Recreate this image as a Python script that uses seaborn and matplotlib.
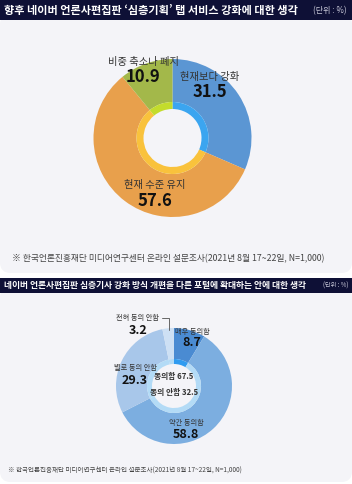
import matplotlib
matplotlib.use("Agg")
import matplotlib.pyplot as plt
from matplotlib.patches import FancyBboxPatch, Rectangle
import seaborn as sns

# Data
top_labels = ["현재보다 강화", "현재 수준 유지", "비중 축소나 폐지"]
top_values = [31.5, 57.6, 10.9]
top_colors = ["#5b96d3", "#e8a04c", "#a3b84a"]
top_inner_colors = ["#3ba5f0", "#f9c23c", "#c3dc2c"]

bottom_labels = ["매우 동의함", "약간 동의함", "별로 동의 안함", "전혀 동의 안함"]
bottom_values = [8.7, 58.8, 29.3, 3.2]
bottom_colors = ["#4a8bd2", "#7caee0", "#a8c7ea", "#cde0f4"]
bottom_inner_colors = ["#2f9bf0", "#b3dbf6", "#b3dbf6", "#b3dbf6"]
agree_total = 67.5
disagree_total = 32.5

title_top = "향후 네이버 언론사편집판 ‘심층기획’ 탭 서비스 강화에 대한 생각"
title_bottom = "네이버 언론사편집판 심층기사 강화 방식 개편을 다른 포털에 확대하는 안에 대한 생각"
unit = "(단위 : %)"
source = "※ 한국언론진흥재단 미디어연구센터 온라인 설문조사(2021년 8월 17~22일, N=1,000)"

sns.set_theme(style="white")
plt.rcParams["font.family"] = ["Noto Sans CJK KR", "DejaVu Sans"]

W, H = 352, 484
fig = plt.figure(figsize=(W / 100, H / 100), dpi=100)
fig.patch.set_facecolor("white")

NAVY = "#0e1036"
PANEL = "#f4f4f8"


def px(x, y):
    return x / W, 1 - y / H


def box(x0, y0, x1, y1, color, rounded=False):
    if rounded:
        p = FancyBboxPatch(px(x0, y1), (x1 - x0) / W, (y1 - y0) / H,
                           boxstyle="round,pad=0,rounding_size=0.03",
                           transform=fig.transFigure, facecolor=color,
                           edgecolor="none", mutation_aspect=W / H, zorder=-2)
    else:
        p = Rectangle(px(x0, y1), (x1 - x0) / W, (y1 - y0) / H,
                      transform=fig.transFigure, facecolor=color,
                      edgecolor="none", zorder=-1)
    fig.patches.append(p)


def txt(x, y, s, size, color="#222222", weight="normal", ha="center", va="center"):
    fig.text(*px(x, y), s, fontsize=size, color=color, fontweight=weight,
             ha=ha, va=va, zorder=5)


def donut(cx, cy, r, values, colors, inner_colors, ring_out, ring_w):
    ax = fig.add_axes([(cx - r) / W, (H - cy - r) / H, 2 * r / W, 2 * r / H])
    ax.pie(values, colors=colors, startangle=90, counterclock=False, radius=1,
           wedgeprops=dict(width=1 - ring_out / r, linewidth=0))
    ax.pie(values, colors=inner_colors, startangle=90, counterclock=False,
           radius=ring_out / r, wedgeprops=dict(width=ring_w / r, linewidth=0))
    ax.set_xlim(-1, 1)
    ax.set_ylim(-1, 1)
    ax.set_aspect("equal")
    ax.axis("off")
    ax.set_zorder(1)
    return ax


# Panel backgrounds
box(0, 14, W, 273, PANEL, rounded=True)
box(0, 0, W, 20, NAVY)
box(0, 287, W, 482, PANEL, rounded=True)
box(0, 278, W, 293, NAVY)

# Headers
txt(4, 10.5, title_top, 8.0, color="white", weight="bold", ha="left")
txt(347, 10.5, unit, 5.8, color="#c8c8d8", ha="right")
txt(4, 285.5, title_bottom, 6.3, color="white", weight="bold", ha="left")
txt(348, 285.5, unit, 4.4, color="#c8c8d8", ha="right")

# Top donut
donut(172.5, 138, 79, top_values, top_colors, top_inner_colors, 36, 7)
top_pos = [(210, 77, 92), (155, 185, 201), (143, 62, 77)]
for (x, y1, y2), lab, val in zip(top_pos, top_labels, top_values):
    txt(x, y1, lab, 7.4, color="#333333")
    txt(x, y2, f"{val}", 12, color="#111111", weight="bold")
txt(12, 259, source, 6.3, color="#444444", ha="left")

# Bottom donut
donut(174, 386, 58, bottom_values, bottom_colors, bottom_inner_colors, 27, 5)
bottom_pos = [(192, 332, 343), (186, 423, 435), (135, 368, 380), (138, 318, 330)]
for (x, y1, y2), lab, val in zip(bottom_pos, bottom_labels, bottom_values):
    txt(x, y1, lab, 5.2, color="#333333")
    txt(x, y2, f"{val}", 9, color="#111111", weight="bold")
fig.add_artist(plt.Line2D([162 / W, 169 / W, 169 / W],
                          [1 - 318 / H, 1 - 318 / H, 1 - 330 / H],
                          transform=fig.transFigure, color="#666666",
                          linewidth=0.7, zorder=5))
txt(174, 377, f"동의함 {agree_total}", 5.6, color="#333333", weight="bold")
txt(174, 393, f"동의 안함 {disagree_total}", 5.6, color="#333333", weight="bold")
txt(8, 471, source, 4.7, color="#444444", ha="left")

fig.savefig("out.png", dpi=100, facecolor="white")
